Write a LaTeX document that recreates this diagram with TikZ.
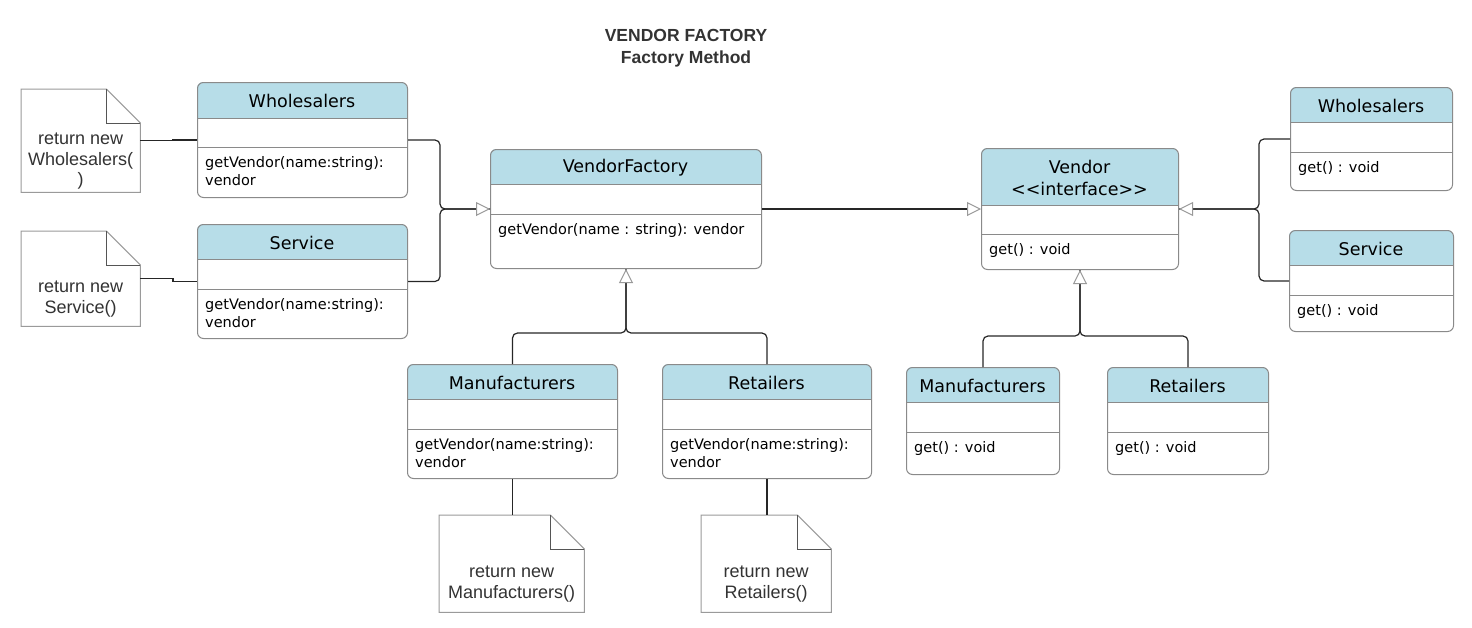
\documentclass[tikz,border=0pt]{standalone}
\usepackage{fontspec}
\setmainfont{DejaVu Sans}
\newfontfamily\notefont{Liberation Sans}
\newfontfamily\umlfont{DejaVu Sans}
\usetikzlibrary{arrows.meta,calc}
\definecolor{hdr}{HTML}{B7DDE8}
\definecolor{bord}{HTML}{8A8A8A}
\definecolor{notebord}{HTML}{9A9A9A}
\definecolor{foldc}{HTML}{555555}
\definecolor{txt}{HTML}{333333}
\tikzset{
  classbox/.style={draw=bord, line width=1pt, rounded corners=6pt, inner sep=0pt, anchor=north west},
  divider/.style={draw=bord, line width=1pt},
  ctitle/.style={font=\umlfont\fontsize{17.5}{21.5}\selectfont, align=center, inner sep=0pt, text=black},
  cbody/.style={font=\umlfont\fontsize{14.5}{18}\selectfont, align=left, inner sep=0pt, text=black},
  notebox/.style={inner sep=0pt, anchor=north west},
  notetext/.style={font=\notefont\fontsize{18}{20.5}\selectfont, align=center, text=txt, inner sep=0pt},
  conn/.style={draw=black!85, line width=1.2pt, rounded corners=5pt},
  inh/.style={-{Triangle[length=14pt,width=14pt,fill=white,color=notebord,line width=1pt]}},
}
% #1 name, #2 x1, #3 y1, #4 x2, #5 y2, #6 header bottom, #7 divider, #8 title, #9 body
\newcommand{\umlclass}[9]{%
  \begin{scope}
    \clip (#2-2,#3-2) rectangle (#4+2,#6);
    \fill[hdr, rounded corners=6pt] (#2,#3) rectangle (#4,#5);
  \end{scope}
  \node[classbox, minimum width={(#4-#2)*1pt}, minimum height={(#5-#3)*1pt}] (#1) at (#2,#3) {};
  \draw[divider] (#2,#6) -- (#4,#6);
  \draw[divider] (#2,#7) -- (#4,#7);
  \node[ctitle] (#1-title) at ({(#2+#4)/2},{(#3+#6)/2+1}) {#8};
  \node[cbody, anchor=north west] (#1-body) at (#2+8,#7+9) {#9};
}
% #1 name, #2 x1, #3 y1, #4 x2, #5 y2, #6 text
\newcommand{\umlnote}[6]{%
  \node[notebox, minimum width={(#4-#2)*1pt}, minimum height={(#5-#3)*1pt}] (#1) at (#2,#3) {};
  \draw[notebord, line width=1pt, fill=white] (#1.north west) -- ([xshift=-34pt]#1.north east)
     -- ([yshift=-34pt]#1.north east) -- (#1.south east) -- (#1.south west) -- cycle;
  \draw[foldc, line width=1pt] ([xshift=-34pt]#1.north east) |- ([yshift=-34pt]#1.north east);
  \node[notetext] (#1-text) at ([yshift=-20.5pt]#1.center) {#6};
}
\begin{document}
\begin{tikzpicture}[x=1pt,y=-1pt]
\useasboundingbox (0,0) rectangle (1472,627);

\node[font=\notefont\bfseries\fontsize{17.5}{22.5}\selectfont, text=txt, align=center] (title) at (686,48) {VENDOR FACTORY\\Factory Method};

\umlclass{wl}{197}{82}{407}{197}{118}{147}{Wholesalers}{getVendor(name:string):\\vendor}
\umlclass{sl}{197}{224}{407}{338}{259}{289}{Service}{getVendor(name:string):\\vendor}
\umlclass{vf}{490}{149}{761}{268}{184}{214}{VendorFactory}{getVendor(name : string): vendor}
\umlclass{v}{981}{148}{1178}{269}{205.5}{234}{Vendor\\<\kern0pt<interface>\kern0pt>}{get() : void}
\umlclass{rw}{1290}{87}{1452}{190}{122}{152}{Wholesalers}{get() : void}
\umlclass{rs}{1289}{230}{1453}{331}{265}{295}{Service}{get() : void}
\umlclass{ml}{407}{364}{617}{478}{399}{429}{Manufacturers}{getVendor(name:string):\\vendor}
\umlclass{rl}{662}{364}{871}{478}{399}{429}{Retailers}{getVendor(name:string):\\vendor}
\umlclass{rm}{906}{367}{1059}{474}{402}{432}{Manufacturers}{get() : void}
\umlclass{rr}{1107}{367}{1268}{474}{402}{432}{Retailers}{get() : void}

\umlnote{n1}{21}{89}{140}{192}{return new\\Wholesalers(\\)}
\umlnote{n2}{21}{231}{140}{326}{return new\\Service()}
\umlnote{n3}{439}{515}{584}{612}{return new\\Manufacturers()}
\umlnote{n4}{701}{515}{831}{612}{return new\\Retailers()}

% notes to classes
\draw[conn, sharp corners] (n1.east) -| ($(wl.west)+(-24,0)$) -- (wl.west);
\draw[conn, sharp corners] (n2.east) -| ($(sl.west)+(-24,0)$) -- (sl.west);
\draw[conn] (ml.south) -- (ml.south |- n3.north);
\draw[conn] (rl.south) -- (rl.south |- n4.north);

% left bracket into VendorFactory
\coordinate (jL) at ($(vf.west)+(-50,0)$);
\draw[conn] (sl.east) -| (jL) -- (vf.west);
\draw[conn, inh] (wl.east) -| (jL) -- (vf.west);

% bottom into VendorFactory
\coordinate (jB) at ($(vf.south)+(0,64)$);
\draw[conn] (rl.north) |- (jB) -- (vf.south);
\draw[conn, inh] (ml.north) |- (jB) -- (vf.south);

% VendorFactory to Vendor
\draw[conn, inh] (vf.east) -- (v.west);

% right bracket into Vendor
\coordinate (jR) at ($(v.east)+(80,0)$);
\draw[conn] (rs.west) -| (jR) -- (v.east);
\draw[conn, inh] (rw.west) -| (jR) -- (v.east);

% bottom into Vendor
\coordinate (jV) at ($(v.south)+(0,66)$);
\draw[conn] (rr.north) |- (jV) -- (v.south);
\draw[conn, inh] (rm.north) |- (jV) -- (v.south);
\end{tikzpicture}
\end{document}
